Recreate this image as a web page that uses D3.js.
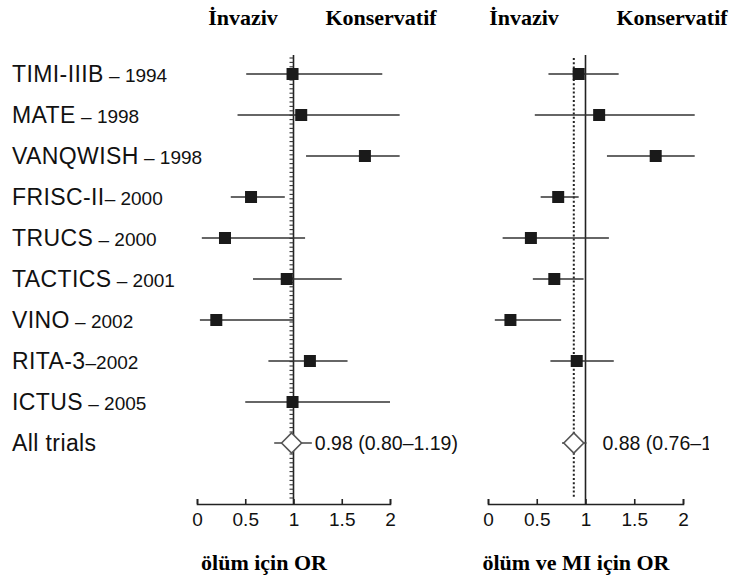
<!DOCTYPE html>
<html><head><meta charset="utf-8">
<script src="https://cdn.jsdelivr.net/npm/d3@7"></script>
<style>body{margin:0;background:#fff}svg{display:block}</style>
</head><body><svg id="c" width="732" height="582"></svg>
<script>
const trials = ["TIMI-IIIB","MATE","VANQWISH","FRISC-II","TRUCS","TACTICS","VINO","RITA-3","ICTUS"];
const seps   = [" – "," – "," – ","– "," – "," – "," – ","–"," – "];
const years  = ["1994","1998","1998","2000","2000","2001","2002","2002","2005"];
const pooledLabel = "All trials";

const deathOR = [0.99,1.08,1.74,0.56,0.29,0.93,0.20,1.17,0.99];
const deathLo = [0.51,0.42,1.13,0.35,0.05,0.58,0.03,0.74,0.50];
const deathHi = [1.92,2.10,2.10,0.91,1.12,1.50,1.00,1.56,2.00];
const deathPooled = [0.98,0.80,1.19];

const miOR = [0.93,1.14,1.72,0.72,0.44,0.68,0.23,0.91,null];
const miLo = [0.62,0.48,1.22,0.54,0.15,0.46,0.07,0.64,null];
const miHi = [1.34,2.12,2.12,0.93,1.24,0.98,0.75,1.29,null];
const miPooled = [0.88,0.76,1.01];

const tickVals = [0,0.5,1,1.5,2];
const tickLabels = ["0","0.5","1","1.5","2"];
const headers = ["İnvaziv","Konservatif"];
const xTitles = ["ölüm için OR","ölüm ve MI için OR"];

const svg = d3.select("#c");
const rows = trials.concat([pooledLabel]);
const y = d3.scalePoint().domain(d3.range(rows.length)).range([74,443]);
const axisY = 504;

const sans = "'Liberation Sans', Arial, sans-serif";
const serif = "'Liberation Serif', 'Times New Roman', serif";

svg.append("defs").append("clipPath").attr("id","edge")
  .append("rect").attr("x",0).attr("y",0).attr("width",709).attr("height",582);

// row labels
rows.forEach((r,i)=>{
  const t = svg.append("text").attr("x",12).attr("y",y(i)+8)
    .attr("font-family",sans).attr("font-size",23).attr("letter-spacing",0.4).attr("fill","#111").text(r);
  if(i<trials.length){
    t.append("tspan").attr("font-size",19).attr("letter-spacing",0).text(seps[i]+years[i]);
  }
});

function panel(range, or, lo, hi, pooled, refDotted, textGap, hdrPos, title, titleX, tickedRef, clip){
  const x = d3.scaleLinear().domain([0,2]).range(range);
  const g = svg.append("g");
  const ax = g.append("g").attr("transform",`translate(0,${axisY})`)
    .call(d3.axisBottom(x).tickValues(tickVals).tickFormat((d,i)=>tickLabels[i]).tickSize(-5).tickSizeOuter(-5).tickPadding(9));
  ax.select(".domain").attr("stroke","#222").attr("stroke-width",1.6);
  ax.selectAll(".tick line").attr("stroke","#222").attr("stroke-width",1.6);
  ax.selectAll(".tick text").attr("font-family",sans).attr("font-size",19).attr("fill","#111");
  g.append("line").attr("x1",x(1)).attr("x2",x(1)).attr("y1",55).attr("y2",axisY)
    .attr("stroke","#222").attr("stroke-width",1.6);
  if(tickedRef){
    g.selectAll(".rt").data(d3.range(58,500,4.4)).enter().append("line")
      .attr("x1",x(1)-4).attr("x2",x(1)).attr("y1",d=>d).attr("y2",d=>d)
      .attr("stroke","#333").attr("stroke-width",1.1);
  }
  if(refDotted!=null){
    g.append("line").attr("x1",x(refDotted)).attr("x2",x(refDotted)).attr("y1",58).attr("y2",498)
      .attr("stroke","#222").attr("stroke-width",2).attr("stroke-dasharray","2,2.2");
  }
  or.forEach((v,i)=>{
    if(v==null) return;
    g.append("line").attr("x1",x(lo[i])).attr("x2",x(hi[i])).attr("y1",y(i)).attr("y2",y(i))
      .attr("stroke","#333").attr("stroke-width",1.6);
    g.append("rect").attr("x",x(v)-6).attr("y",y(i)-6).attr("width",12).attr("height",12)
      .attr("fill","#1a1a1a");
  });
  const py = y(rows.length-1);
  g.append("line").attr("x1",x(pooled[1])).attr("x2",x(pooled[2])).attr("y1",py).attr("y2",py)
    .attr("stroke","#444").attr("stroke-width",1.6);
  const cx = x(pooled[0]);
  g.append("path").attr("d",`M${cx-10},${py}L${cx},${py-10}L${cx+10},${py}L${cx},${py+10}Z`)
    .attr("fill","#fff").attr("stroke","#555").attr("stroke-width",1.6);
  const pt = g.append("text").attr("x",x(pooled[2])+textGap).attr("y",py+7)
    .attr("font-family",sans).attr("font-size",19.5).attr("fill","#111")
    .text(`${pooled[0].toFixed(2)} (${pooled[1].toFixed(2)}–${pooled[2].toFixed(2)})`);
  if(clip) pt.attr("clip-path","url(#edge)");
  headers.forEach((h,i)=>{
    g.append("text").attr("x",hdrPos[i]).attr("y",25).attr("text-anchor","middle")
      .attr("font-family",serif).attr("font-weight","bold").attr("font-size",22).attr("fill","#000").text(h);
  });
  g.append("text").attr("x",titleX).attr("y",570).attr("text-anchor","middle")
    .attr("font-family",serif).attr("font-weight","bold").attr("font-size",22).attr("fill","#000").text(title);
}
panel([197,390], deathOR, deathLo, deathHi, deathPooled, null, 3, [243,381], xTitles[0], 264, true, false);
panel([488,683], miOR, miLo, miHi, miPooled, miPooled[0], 16, [524,672], xTitles[1], 576, false, true);
</script></body></html>
